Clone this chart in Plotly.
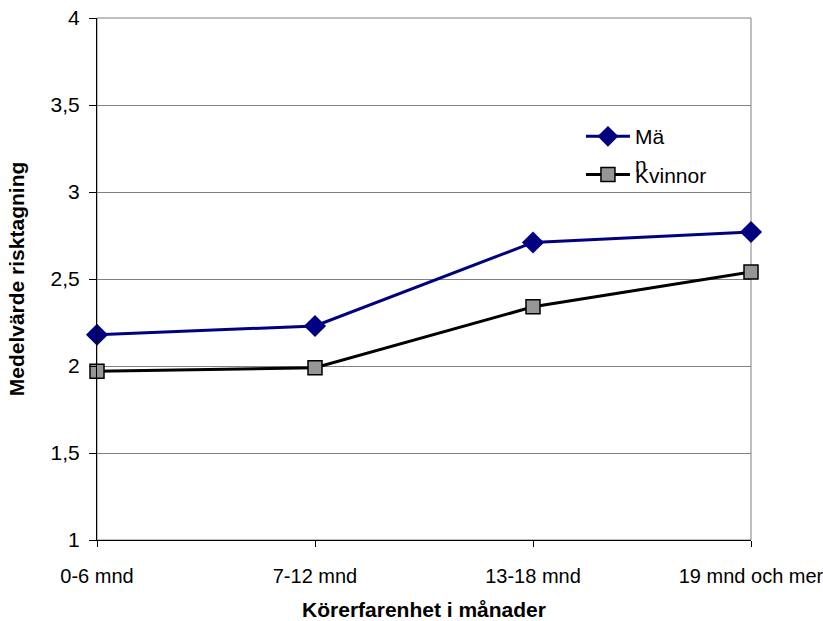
import plotly.graph_objects as go

categories = ["0-6 mnd", "7-12 mnd", "13-18 mnd", "19 mnd och mer"]
man_values = [2.18, 2.23, 2.71, 2.77]
kvinnor_values = [1.97, 1.99, 2.34, 2.54]
y_tickvals = [1, 1.5, 2, 2.5, 3, 3.5, 4]
y_ticktext = ["1", "1,5", "2", "2,5", "3", "3,5", "4"]

FONT = "Liberation Sans, Arial, sans-serif"

fig = go.Figure()
fig.add_trace(go.Scatter(
    x=categories, y=man_values, name="Mä<br>n", mode="lines+markers",
    line=dict(color="#000080", width=3),
    marker=dict(symbol="diamond", size=17, color="#000080", line=dict(width=0)),
    cliponaxis=False, legend="legend",
))
fig.add_trace(go.Scatter(
    x=categories, y=kvinnor_values, name="Kvinnor", mode="lines+markers",
    line=dict(color="#000000", width=3),
    marker=dict(symbol="square", size=14, color="#969696", line=dict(color="#000000", width=1.5)),
    cliponaxis=False, legend="legend2",
))

# white legend box
fig.add_shape(type="rect", xref="paper", yref="paper",
              x0=0.734, x1=0.948, y0=0.66, y1=0.81,
              fillcolor="white", line=dict(width=0), layer="between")
# plot-area frame (gray)
fig.add_shape(type="rect", xref="paper", yref="paper", x0=0, x1=1, y0=0, y1=1,
              line=dict(color="#808080", width=1), layer="below")

fig.update_layout(
    width=823, height=621,
    margin=dict(l=97, r=72, t=18, b=81, autoexpand=False),
    paper_bgcolor="white", plot_bgcolor="white",
    font=dict(family=FONT, size=21, color="black"),
    showlegend=True,
    legend=dict(x=0.740, y=0.812, xanchor="left", yanchor="top",
                bgcolor="rgba(0,0,0,0)", valign="top",
                font=dict(size=21), itemwidth=44),
    legend2=dict(x=0.740, y=0.739, xanchor="left", yanchor="top",
                 bgcolor="rgba(0,0,0,0)",
                 font=dict(size=21), itemwidth=44),
    xaxis=dict(
        type="category", range=[0, 3], automargin=False,
        showgrid=False, showline=True, linecolor="black", linewidth=1,
        ticks="outside", ticklen=6, tickcolor="black",
        ticklabelstandoff=12, tickfont=dict(size=20),
        title=dict(text="<b>Körerfarenhet i månader</b>", standoff=16, font=dict(size=21)),
        zeroline=False,
    ),
    yaxis=dict(
        range=[1, 4], tickvals=y_tickvals, ticktext=y_ticktext, automargin=False,
        showgrid=True, gridcolor="#808080", gridwidth=1,
        showline=True, linecolor="black", linewidth=1,
        ticks="outside", ticklen=7, tickcolor="black",
        ticklabelstandoff=5,
        title=dict(text="<b>Medelvärde risktagning</b>", standoff=20, font=dict(size=21)),
        zeroline=False,
    ),
)

fig.write_html("out.html")
